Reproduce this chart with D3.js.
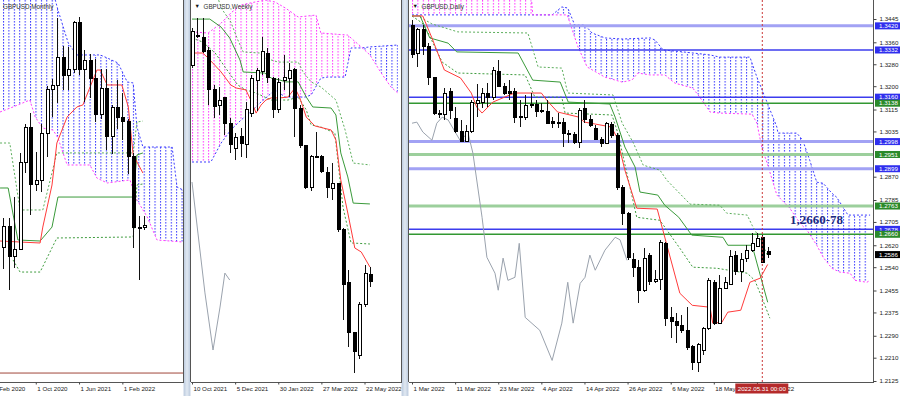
<!DOCTYPE html>
<html>
<head>
<meta charset="utf-8">
<title>GBPUSD</title>
<script src="https://cdn.jsdelivr.net/npm/d3@7"></script>
<style>
  body { margin: 0; background: #fff; }
  svg { display: block; font-family: "Liberation Sans", Arial, sans-serif; }
</style>
</head>
<body>
<svg id="chart" width="900" height="396"></svg>
<script>
// ---------- monthly (Apr 2020 .. Jun 2022), [open, high, low, close] ----------
const monthlyCandles = [
  [1.2418,1.2648,1.2247,1.2585],[1.2585,1.2647,1.2076,1.2346],[1.2346,1.2813,1.2252,1.2401],
  [1.2401,1.3170,1.2391,1.3094],[1.3094,1.3395,1.3006,1.3371],[1.3371,1.3482,1.2676,1.2916],
  [1.2916,1.3177,1.2863,1.2946],[1.2946,1.3398,1.2854,1.3323],[1.3323,1.3703,1.3135,1.3672],
  [1.3672,1.3759,1.3451,1.3707],[1.3707,1.4242,1.3566,1.3930],[1.3930,1.4017,1.3669,1.3784],
  [1.3784,1.4009,1.3669,1.3830],[1.3830,1.4218,1.3801,1.4208],[1.4208,1.4249,1.3786,1.3830],
  [1.3830,1.3984,1.3572,1.3902],[1.3902,1.3958,1.3602,1.3761],[1.3761,1.3913,1.3412,1.3474],
  [1.3474,1.3834,1.3434,1.3681],[1.3681,1.3835,1.3194,1.3301],[1.3301,1.3546,1.3161,1.3532],
  [1.3532,1.3749,1.3358,1.3446],[1.3446,1.3644,1.3273,1.3415],[1.3415,1.3438,1.3000,1.3138],
  [1.3138,1.3167,1.2410,1.2574],[1.2574,1.2667,1.2155,1.2575],[1.2575,1.2666,1.2554,1.2586]
];
const monthlyTenkan = [[-0.6,1.2466],[6.8,1.2450],[7.3,1.2577],[9,1.2912],[9.9,1.3246],[11.8,1.3453],[13.6,1.3533],[14.7,1.3549],[17.3,1.3827],[17.9,1.3827],[19.2,1.3708],[21.9,1.3708],[23.1,1.3533],[24,1.3151],[25.8,1.3007]];
const monthlyKijun = [[-0.6,1.2888],[0.9,1.2888],[2.7,1.2474],[6.8,1.2466],[9,1.2577],[10.1,1.2816],[24,1.2816],[24.7,1.3151],[25.8,1.3167]];
const monthlyUpper = [[-0.6,1.3246],[1.2,1.3246],[3.1,1.2713],[7.3,1.2713],[9.9,1.3167],[24,1.3167],[24.7,1.3413],[25.8,1.3421]];
const monthlyLower = [[1.8,1.2315],[3.1,1.2219],[6.8,1.2219],[9.9,1.2490],[24,1.2498],[24.7,1.2912],[25.8,1.2920]];
const monthlySpanA = [[-0.6,1.4544],[9,1.4544],[9.6,1.4384],[10.1,1.4305],[12,1.4042],[13.6,1.3947],[17.9,1.3947],[19.2,1.3923],[21.2,1.3883],[22.9,1.3732],[24,1.3724],[24.7,1.3373],[25.8,1.3214],[31.2,1.3214],[32.1,1.2896],[33.2,1.2872]];
const monthlySpanB = [[-0.6,1.3493],[1.8,1.3533],[4.9,1.3588],[5.9,1.3453],[7.3,1.3365],[9.2,1.3349],[10.1,1.3286],[11.8,1.3071],[16,1.3071],[17.3,1.2967],[19.2,1.2928],[23.4,1.2952],[24.7,1.2792],[26.6,1.2657],[28.4,1.2474],[33.2,1.2458]];
const monthlyChikou = [];
const monthlyDateIdx = [-2, 6, 14, 22];
const monthlyDates = ["1 Feb 2020", "1 Oct 2020", "1 Jun 2021", "1 Feb 2022"];
const monthlyLevel = 1.1415;

// ---------- weekly (week of 10 Oct 2021 .. 29 May 2022) ----------
const weeklyCandles = [
  [1.3616,1.3792,1.3602,1.3773],[1.3758,1.3839,1.3744,1.3754],[1.3749,1.3839,1.3673,1.3678],
  [1.3687,1.3702,1.3426,1.3502],[1.3498,1.3521,1.3365,1.3417],[1.3426,1.3512,1.3379,1.3450],
  [1.3460,1.3460,1.3284,1.3341],[1.3341,1.3365,1.3199,1.3241],[1.3222,1.3294,1.3165,1.3270],
  [1.3275,1.3317,1.3180,1.3246],[1.3241,1.3441,1.3175,1.3403],[1.3388,1.3569,1.3369,1.3550],
  [1.3545,1.3600,1.3400,1.3592],[1.3583,1.3749,1.3570,1.3678],[1.3673,1.3697,1.3531,1.3559],
  [1.3554,1.3559,1.3365,1.3403],[1.3403,1.3554,1.3388,1.3531],[1.3545,1.3664,1.3498,1.3559],
  [1.3554,1.3626,1.3464,1.3588],[1.3597,1.3602,1.3275,1.3412],[1.3412,1.3426,1.3222,1.3232],
  [1.3232,1.3237,1.3028,1.3037],[1.3033,1.3189,1.3019,1.3184],[1.3184,1.3298,1.3175,1.3180],
  [1.3184,1.3189,1.3104,1.3113],[1.3108,1.3132,1.2985,1.3037],[1.3028,1.3151,1.2976,1.3056],
  [1.3052,1.3056,1.2824,1.2838],[1.2838,1.2843,1.2406,1.2577],[1.2582,1.2644,1.2278,1.2345],
  [1.2345,1.2350,1.2155,1.2259],[1.2236,1.2492,1.2221,1.2482],[1.2478,1.2667,1.2468,1.2629],
  [1.2620,1.2658,1.2563,1.2591]
];
const weeklyTenkan = [[0,1.3673],[2,1.3673],[3,1.3649],[5.4,1.3583],[7.2,1.3521],[8.2,1.3507],[10,1.3498],[10.9,1.3450],[11.9,1.3388],[12.8,1.3426],[13.7,1.3450],[14.7,1.3460],[16.3,1.3460],[17.8,1.3464],[19.1,1.3507],[20,1.3460],[21.2,1.3369],[22.8,1.3327],[25.8,1.3308],[26.7,1.3260],[27.6,1.3071],[28.9,1.2914],[30.2,1.2748],[31.4,1.2729],[33,1.2658]];
const weeklyKijun = [[0,1.3834],[3.3,1.3834],[5.4,1.3796],[7,1.3744],[8.9,1.3640],[9.5,1.3583],[13.5,1.3578],[14.7,1.3554],[16.3,1.3545],[17.4,1.3536],[19.7,1.3536],[21.2,1.3464],[22.4,1.3417],[25.8,1.3412],[26.7,1.3379],[27.6,1.3199],[28.9,1.3085],[29.9,1.2961],[33,1.2957]];
const weeklyUpper = [[4.5,1.3960],[5.4,1.3887],[7.2,1.3820],[8.5,1.3735],[9.5,1.3678],[12.6,1.3673],[13.5,1.3649],[16,1.3630],[19.7,1.3630],[20.6,1.3583],[22.1,1.3536],[23.9,1.3512],[26.7,1.3450],[28.4,1.3308],[29.9,1.3151],[33,1.3142]];
const weeklyLower = [[0,1.3744],[2,1.3725],[4.3,1.3673],[6.1,1.3607],[8.5,1.3521],[10,1.3498],[11.9,1.3483],[13.5,1.3464],[14.7,1.3450],[17.8,1.3450],[19.7,1.3464],[21.2,1.3403],[22.1,1.3332],[23.9,1.3322],[26.5,1.3294],[28,1.2943],[29.5,1.2772],[33,1.2767]];
const weeklyChikou = [[0,1.3061],[1.1,1.2819],[2.4,1.2535],[3.9,1.2264],[5.2,1.2468],[6.1,1.2629],[7,1.2596]];
const weeklySpanA = [[0,1.3156],[3.5,1.3156],[5.4,1.3246],[7.2,1.3308],[9.1,1.3355],[11.3,1.3403],[12.6,1.3436],[13.7,1.3460],[15.4,1.3498],[17.3,1.3464],[21,1.3464],[22.1,1.3474],[23.9,1.3554],[25.2,1.3559],[28.4,1.3559],[29.5,1.3697],[31.4,1.3697],[33,1.3702],[38.2,1.3711]];
const weeklySpanB = [[0,1.3773],[3,1.3768],[5.4,1.3815],[7.2,1.3863],[9.1,1.3901],[11.7,1.3915],[13.7,1.3924],[15.4,1.3915],[17.3,1.3887],[19.7,1.3844],[23,1.3853],[23.9,1.3768],[28.9,1.3758],[29.9,1.3735],[31.4,1.3702],[33,1.3664],[35.1,1.3578],[36.9,1.3512],[38.2,1.3483]];
const weeklyDateIdx = [0, 8, 16, 24, 32];
const weeklyDates = ["10 Oct 2021", "5 Dec 2021", "30 Jan 2022", "27 Mar 2022", "22 May 2022"];

// ---------- daily (1 Mar 2022 .. 1 Jun 2022) ----------
const dailyCandles = [
  [1.3423,1.3441,1.3303,1.3314],[1.3321,1.3412,1.3270,1.3405],[1.3405,1.3423,1.3314,1.3343],
  [1.3343,1.3357,1.3204,1.3230],[1.3230,1.3233,1.3095,1.3102],[1.3102,1.3113,1.3084,1.3098],
  [1.3095,1.3193,1.3077,1.3175],[1.3179,1.3193,1.3080,1.3113],[1.3084,1.3124,1.3029,1.3033],
  [1.3033,1.3077,1.2996,1.3000],[1.3000,1.3058,1.2996,1.3033],[1.3033,1.3149,1.3029,1.3142],
  [1.3138,1.3208,1.3087,1.3149],[1.3142,1.3193,1.3120,1.3175],[1.3175,1.3211,1.3124,1.3160],
  [1.3160,1.3270,1.3149,1.3259],[1.3252,1.3295,1.3197,1.3200],[1.3200,1.3211,1.3168,1.3175],
  [1.3179,1.3222,1.3149,1.3175],[1.3179,1.3193,1.3065,1.3087],[1.3091,1.3149,1.3051,1.3087],
  [1.3087,1.3168,1.3077,1.3131],[1.3131,1.3175,1.3120,1.3135],[1.3135,1.3149,1.3087,1.3106],
  [1.3113,1.3138,1.3102,1.3106],[1.3109,1.3149,1.3062,1.3065],[1.3073,1.3087,1.3047,1.3065],
  [1.3065,1.3102,1.3047,1.3069],[1.3069,1.3084,1.2978,1.3029],[1.3029,1.3040,1.2992,1.3025],
  [1.3025,1.3033,1.2989,1.2996],[1.2996,1.3120,1.2974,1.3113],[1.3117,1.3149,1.3065,1.3077],
  [1.3077,1.3095,1.3051,1.3058],[1.3047,1.3058,1.3003,1.3007],[1.3007,1.3014,1.2978,1.2992],
  [1.2992,1.3069,1.2989,1.3065],[1.3062,1.3069,1.3011,1.3022],[1.3022,1.3029,1.2821,1.2832],
  [1.2832,1.2839,1.2693,1.2737],[1.2737,1.2740,1.2565,1.2576],[1.2569,1.2591,1.2503,1.2540],
  [1.2540,1.2565,1.2409,1.2456],[1.2456,1.2609,1.2449,1.2573],[1.2584,1.2591,1.2474,1.2489],
  [1.2489,1.2529,1.2481,1.2496],[1.2496,1.2638,1.2456,1.2631],[1.2627,1.2631,1.2324,1.2354],
  [1.2357,1.2394,1.2281,1.2343],[1.2343,1.2372,1.2263,1.2328],[1.2328,1.2365,1.2299,1.2310],
  [1.2310,1.2394,1.2237,1.2248],[1.2252,1.2255,1.2164,1.2193],[1.2193,1.2263,1.2157,1.2259],
  [1.2237,1.2321,1.2219,1.2317],[1.2317,1.2500,1.2310,1.2492],[1.2485,1.2492,1.2328,1.2335],
  [1.2335,1.2511,1.2332,1.2463],[1.2463,1.2503,1.2460,1.2485],[1.2478,1.2602,1.2474,1.2580],
  [1.2584,1.2598,1.2511,1.2525],[1.2525,1.2591,1.2485,1.2569],[1.2573,1.2620,1.2558,1.2602],
  [1.2602,1.2664,1.2595,1.2627],[1.2616,1.2664,1.2613,1.2646],[1.2649,1.2657,1.2554,1.2558],
  [1.2598,1.2613,1.2573,1.2587]
];
const dailyTenkan = [[0,1.3456],[2,1.3456],[3.7,1.3376],[6,1.3259],[9,1.3230],[11,1.3175],[12,1.3124],[13,1.3102],[15,1.3142],[19,1.3175],[24,1.3175],[25,1.3149],[27,1.3106],[31,1.3087],[32,1.3069],[34,1.3062],[37,1.3051],[38,1.3014],[39.5,1.2894],[41.7,1.2755],[45.5,1.2752],[46.4,1.2686],[49.7,1.2445],[52,1.2401],[55.3,1.2394],[55.8,1.2336],[57.5,1.2339],[58.6,1.2376],[61,1.2383],[62.7,1.2485],[64.6,1.2500],[66,1.2550]];
const dailyKijun = [[0,1.3456],[1.5,1.3456],[3.3,1.3376],[6.7,1.3357],[8.3,1.3325],[19.7,1.3321],[22.4,1.3222],[27.5,1.3215],[29,1.3142],[36.7,1.3135],[37.7,1.3087],[39.5,1.2978],[41.4,1.2905],[42.3,1.2814],[45.6,1.2803],[46.9,1.2766],[49.5,1.2722],[51.9,1.2657],[57.7,1.2649],[58.6,1.2620],[63.1,1.2620],[64,1.2555],[66,1.2412]];
const dailyUpper = [[1.5,1.3452],[3.7,1.3427],[8.5,1.3398],[21.5,1.3394],[23.4,1.3270],[27.8,1.3266],[28.9,1.3175],[37.3,1.3168],[39,1.3065],[41,1.2996],[42.9,1.2912],[46,1.2894],[47.3,1.2857],[51.6,1.2770],[57.1,1.2766],[58.4,1.2737],[62.2,1.2730],[63.1,1.2693],[64.9,1.2631],[66,1.2580]];
const dailyLower = [[0,1.3456],[1.9,1.3430],[3,1.3394],[5.6,1.3288],[8.5,1.3248],[21,1.3241],[22.8,1.3160],[27.8,1.3160],[28.4,1.3102],[37.1,1.3095],[38.2,1.3029],[41.7,1.2722],[46,1.2711],[49.7,1.2609],[52.1,1.2540],[56.6,1.2536],[62.2,1.2518],[63.6,1.2492],[64.6,1.2445],[66.4,1.2354]];
const dailyChikou = [[0,1.3065],[0.9,1.3069],[2,1.3033],[3.7,1.3003],[4.6,1.3065],[5.6,1.3087],[6.7,1.3077],[8.9,1.3003],[10.4,1.3029],[11.3,1.2956],[13,1.2722],[13.9,1.2576],[15.4,1.2518],[16,1.2456],[16.9,1.2573],[17.8,1.2492],[19.1,1.2503],[19.9,1.2627],[21,1.2357],[23.7,1.2310],[26,1.2200],[27.8,1.2336],[28.9,1.2485],[29.9,1.2336],[31.2,1.2481],[32.1,1.2503],[33,1.2584],[34,1.2529],[35.8,1.2602],[37.7,1.2649],[38.6,1.2640],[39.9,1.2565]];
const dailySpanA = [[0,1.3460],[26,1.3460],[27.8,1.3489],[28.9,1.3485],[30.2,1.3423],[32.1,1.3423],[33.4,1.3394],[35.8,1.3376],[39,1.3372],[44.2,1.3376],[45.1,1.3368],[46.6,1.3332],[50.3,1.3325],[55.3,1.3314],[57.1,1.3306],[62.7,1.3306],[64,1.3233],[65.5,1.3160],[67.7,1.3051],[67.9,1.3029],[71.4,1.3029],[72.5,1.3003],[73.8,1.2930],[75.1,1.2850],[76.3,1.2846],[77.9,1.2810],[78.8,1.2795],[80.9,1.2730],[85,1.2730]];
const dailySpanB = [[0,1.3587],[21.9,1.3587],[22.4,1.3460],[28.8,1.3460],[30.8,1.3343],[32.5,1.3270],[35.8,1.3233],[39,1.3215],[40.8,1.3222],[41.9,1.3248],[44.2,1.3241],[46.9,1.3241],[48.8,1.3211],[52.1,1.3193],[53.4,1.3160],[55.3,1.3106],[57.1,1.3102],[63.1,1.3098],[64,1.3065],[64.9,1.2978],[65.9,1.2919],[67.7,1.2803],[70.1,1.2755],[72,1.2700],[73.3,1.2675],[75.1,1.2620],[76.3,1.2576],[77.9,1.2536],[79.4,1.2522],[81.3,1.2518],[82.2,1.2492],[84.4,1.2485],[85,1.2492]];
const dailyDateIdx = [0, 8, 16, 24, 32, 40, 48, 56, 64];
const dailyDates = ["1 Mar 2022", "11 Mar 2022", "23 Mar 2022", "4 Apr 2022", "14 Apr 2022", "26 Apr 2022", "6 May 2022", "18 May 2022", "30 May 2022"];
const dailyPriceTicks = [1.3445, 1.3360, 1.3280, 1.3200, 1.3115, 1.3035, 1.2870, 1.2785, 1.2705, 1.2620, 1.2540, 1.2455, 1.2375, 1.2290, 1.2210, 1.2125];
const levelPrices = [1.3420, 1.3332, 1.3160, 1.3138, 1.2998, 1.2951, 1.2899, 1.2763, 1.2678, 1.2660];
const levelKind = ["blue", "blue", "blue", "green", "blue", "green", "blue", "green", "blue", "green"];
const levelSource = ["weekly", "daily", "daily", "daily", "weekly", "weekly", "weekly", "weekly", "daily", "daily"];
const lastPrice = 1.2586;
const markerIdx = 65;
const markerText = "2022.05.31 00:00";
const zoneText = "1,2660-78";
const zonePrice = 1.2712;

// ---------- layout ----------
const plotBottom = 382;
const svg = d3.select("#chart");
const defs = svg.append("defs");
const fmt4 = d3.format(".4f");

const panels = [
  { id: "m", title: "GBPUSD,Monthly", arrow: false, left: 0, right: 183.5,
    x: d3.scaleLinear().domain([0, 26]).range([3.3, 144]),
    y: d3.scaleLinear().domain([1.4249, 1.2076]).range([17, 290]),
    candles: monthlyCandles, tenkan: monthlyTenkan, kijun: monthlyKijun,
    upper: monthlyUpper, lower: monthlyLower, chikou: monthlyChikou,
    spanA: monthlySpanA, spanB: monthlySpanB, dateIdx: monthlyDateIdx, dates: monthlyDates },
  { id: "w", title: "GBPUSD,Weekly", arrow: true, left: 190.5, right: 401.5,
    x: d3.scaleLinear().domain([0, 33]).range([192, 369.9]),
    y: d3.scaleLinear().domain([1.2155, 1.3749]).range([373, 37]),
    candles: weeklyCandles, tenkan: weeklyTenkan, kijun: weeklyKijun,
    upper: weeklyUpper, lower: weeklyLower, chikou: weeklyChikou,
    spanA: weeklySpanA, spanB: weeklySpanB, dateIdx: weeklyDateIdx, dates: weeklyDates },
  { id: "d", title: "GBPUSD,Daily", arrow: true, left: 408.5, right: 873.5,
    x: d3.scaleLinear().domain([0, 66]).range([412, 767.7]),
    y: d3.scaleLinear().domain([1.3445, 1.2125]).range([19, 381]),
    candles: dailyCandles, tenkan: dailyTenkan, kijun: dailyKijun,
    upper: dailyUpper, lower: dailyLower, chikou: dailyChikou,
    spanA: dailySpanA, spanB: dailySpanB, dateIdx: dailyDateIdx, dates: dailyDates }
];

// separators between the three windows
[[183.5, 190.5], [401.5, 408.5]].forEach(([a, b]) => {
  svg.append("rect").attr("x", a).attr("y", 0).attr("width", b - a).attr("height", 396).attr("fill", "#c5d2e3");
  svg.append("rect").attr("x", a + 2).attr("y", 0).attr("width", b - a - 4).attr("height", 396).attr("fill", "#dbe4ef");
});

function hatch(id, color, x0, step) {
  const p = defs.append("pattern").attr("id", id)
    .attr("patternUnits", "userSpaceOnUse")
    .attr("x", x0).attr("y", 0).attr("width", step).attr("height", 3);
  p.append("rect").attr("x", 0).attr("y", 0).attr("width", 1).attr("height", 1.6).attr("fill", color);
}

function drawPanel(c) {
  const g = svg.append("g");
  defs.append("clipPath").attr("id", c.id + "-clip").append("rect")
    .attr("x", c.left).attr("y", 0).attr("width", c.right - c.left).attr("height", plotBottom);
  const pg = g.append("g").attr("clip-path", `url(#${c.id}-clip)`);
  const line = d3.line().x(d => c.x(d[0])).y(d => c.y(d[1]));
  const P = arr => arr.map(d => [c.x(d[0]), c.y(d[1])]);

  // cloud: hatch between span A and span B, coloured by which span is on top
  const step = c.x(1) - c.x(0);
  hatch(c.id + "-hb", "#3b3bff", Math.round(c.x(0)), step);
  hatch(c.id + "-hm", "#ff3cff", Math.round(c.x(0)), step);
  const a = P(c.spanA), b = P(c.spanB);
  const between = "M" + a.concat(b.slice().reverse()).join("L") + "Z";
  const bl = b[0][0], br = b[b.length - 1][0];
  defs.append("clipPath").attr("id", c.id + "-upB").append("path")
    .attr("d", "M" + [[bl, -200]].concat(b, [[br, -200]]).join("L") + "Z");
  defs.append("clipPath").attr("id", c.id + "-dnB").append("path")
    .attr("d", "M" + [[bl, 600]].concat(b, [[br, 600]]).join("L") + "Z");
  pg.append("path").attr("d", between).attr("fill", `url(#${c.id}-hb)`).attr("clip-path", `url(#${c.id}-upB)`);
  pg.append("path").attr("d", between).attr("fill", `url(#${c.id}-hm)`).attr("clip-path", `url(#${c.id}-dnB)`);
  pg.append("path").attr("d", line(c.spanA)).attr("fill", "none").attr("stroke", "#3b3bff").attr("stroke-dasharray", "2,2");
  pg.append("path").attr("d", line(c.spanB)).attr("fill", "none").attr("stroke", "#ff3cff").attr("stroke-dasharray", "2,2");

  c.pg = pg;
  c.line = line;
  return g;
}

function drawLines(c) {
  const pg = c.pg, line = c.line;
  if (c.chikou.length) pg.append("path").attr("d", line(c.chikou)).attr("fill", "none").attr("stroke", "#9aa2ad");
  pg.append("path").attr("d", line(c.upper)).attr("fill", "none").attr("stroke", "#5cae5c").attr("stroke-dasharray", "2,2");
  pg.append("path").attr("d", line(c.lower)).attr("fill", "none").attr("stroke", "#3f9c3f").attr("stroke-dasharray", "2,2");
  pg.append("path").attr("d", line(c.kijun)).attr("fill", "none").attr("stroke", "#3a9a3a");
  pg.append("path").attr("d", line(c.tenkan)).attr("fill", "none").attr("stroke", "#ff3b3b");
}

function drawCandles(c) {
  const cg = c.pg.append("g").attr("shape-rendering", "crispEdges");
  const cx = i => Math.round(c.x(i)) + 0.5;
  cg.selectAll("line").data(c.candles).join("line")
    .attr("x1", (d, i) => cx(i)).attr("x2", (d, i) => cx(i))
    .attr("y1", d => c.y(d[1])).attr("y2", d => c.y(d[2]))
    .attr("stroke", "#111");
  cg.selectAll("rect").data(c.candles).join("rect")
    .attr("x", (d, i) => cx(i) - 1.5)
    .attr("y", d => c.y(Math.max(d[0], d[3])))
    .attr("width", 3)
    .attr("height", d => Math.max(1, Math.abs(c.y(d[0]) - c.y(d[3]))))
    .attr("fill", d => d[3] < d[0] ? "#000" : "#fff")
    .attr("stroke", "#000");
}

function drawFrame(c) {
  const f = svg.append("g").attr("fill", "none").attr("stroke", "#555").attr("shape-rendering", "crispEdges");
  f.append("line").attr("x1", c.left).attr("x2", c.right).attr("y1", plotBottom + 0.5).attr("y2", plotBottom + 0.5);
  if (c.left > 0) f.append("line").attr("x1", c.left).attr("x2", c.left).attr("y1", 0).attr("y2", plotBottom);
  f.append("line").attr("x1", c.right).attr("x2", c.right).attr("y1", 0).attr("y2", plotBottom);

  // date axis, clipped to the window width (clip on the outer group, transform on the inner)
  defs.append("clipPath").attr("id", c.id + "-aclip").append("rect")
    .attr("x", c.left).attr("y", plotBottom).attr("width", c.right - c.left).attr("height", 20);
  const ax = svg.append("g").attr("clip-path", `url(#${c.id}-aclip)`)
    .append("g").attr("transform", `translate(0,${plotBottom + 0.5})`)
    .call(d3.axisBottom(c.x).tickValues(c.dateIdx).tickFormat((d, i) => c.dates[i]).tickSize(2).tickPadding(2));
  ax.select(".domain").remove();
  ax.selectAll("line").attr("stroke", "#444");
  ax.selectAll("text").attr("text-anchor", "start").attr("dx", 1).attr("font-size", 6.2)
    .attr("font-family", "Liberation Sans, Arial, sans-serif").attr("fill", "#222");

  const t = svg.append("g").attr("font-size", 6.3).attr("fill", "#333");
  let tx = c.left + 3;
  if (c.arrow) {
    t.append("text").attr("x", tx + 1).attr("y", 8).attr("font-size", 5.5).attr("fill", "#111").text("▼");
    tx += 10;
  }
  t.append("text").attr("x", tx).attr("y", 8.5).text(c.title);
}

panels.forEach(c => drawPanel(c));
const [pm, pw, pd] = panels;

// monthly support line
pm.pg.append("line").attr("x1", pm.left).attr("x2", pm.right)
  .attr("y1", pm.y(monthlyLevel)).attr("y2", pm.y(monthlyLevel))
  .attr("stroke", "#a0473a").attr("stroke-width", 1);

// daily horizontal levels
const levelStyle = {
  "blue-weekly": { stroke: "#a2a2f4", width: 3 },
  "blue-daily": { stroke: "#3c3cee", width: 1.5 },
  "green-weekly": { stroke: "#9ccf9c", width: 3 },
  "green-daily": { stroke: "#329832", width: 1.5 }
};
levelPrices.forEach((p, i) => {
  const s = levelStyle[levelKind[i] + "-" + levelSource[i]];
  pd.pg.append("line").attr("x1", pd.left).attr("x2", pd.right)
    .attr("y1", pd.y(p)).attr("y2", pd.y(p))
    .attr("stroke", s.stroke).attr("stroke-width", s.width);
});

panels.forEach(c => { drawLines(c); drawCandles(c); drawFrame(c); });

// period separator / cursor line on the daily
pd.pg.append("line").attr("x1", pd.x(markerIdx)).attr("x2", pd.x(markerIdx))
  .attr("y1", 0).attr("y2", plotBottom)
  .attr("stroke", "#cc3a3a").attr("stroke-dasharray", "2,2");

// zone label
svg.append("text").attr("x", 790).attr("y", pd.y(zonePrice) + 4)
  .attr("font-family", "Liberation Serif, Times New Roman, serif")
  .attr("font-weight", "bold").attr("font-size", 13).attr("fill", "#1c2a7e")
  .text(zoneText);

// price axis on the right of the daily
const ra = svg.append("g").attr("transform", `translate(${pd.right},0)`)
  .call(d3.axisRight(pd.y).tickValues(dailyPriceTicks).tickSize(3).tickPadding(3).tickFormat(fmt4));
ra.select(".domain").remove();
ra.selectAll("line").attr("stroke", "#444");
ra.selectAll("text").attr("font-size", 6.2).attr("font-family", "Liberation Sans, Arial, sans-serif").attr("fill", "#222");

const boxColor = { blue: "#2f2fee", green: "#2b8a2b" };
function priceBox(p, fill) {
  const yy = pd.y(p);
  svg.append("rect").attr("x", 875).attr("y", yy - 3.5).attr("width", 25).attr("height", 7).attr("fill", fill);
  svg.append("text").attr("x", 879).attr("y", yy + 2.2).attr("font-size", 6.2).attr("fill", "#fff").text(fmt4(p));
}
levelPrices.forEach((p, i) => priceBox(p, boxColor[levelKind[i]]));
priceBox(lastPrice, "#000");

// date marker box under the cursor line
const mx = pd.x(markerIdx);
svg.append("rect").attr("x", mx - 27).attr("y", plotBottom + 1.5).attr("width", 53).attr("height", 10).attr("fill", "#b52a2a");
svg.append("text").attr("x", mx - 0.5).attr("y", plotBottom + 8.8).attr("text-anchor", "middle")
  .attr("font-size", 6.2).attr("fill", "#fff").text(markerText);
</script>
</body>
</html>
